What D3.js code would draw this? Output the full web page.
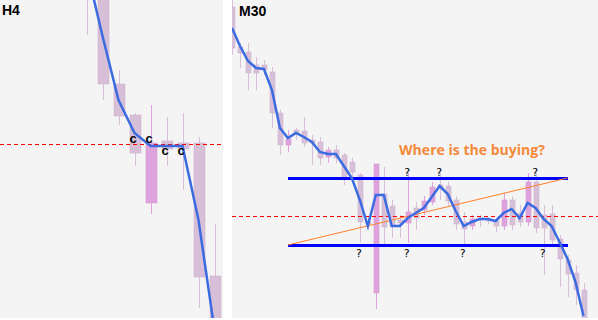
<!DOCTYPE html>
<html>
<head>
<meta charset="utf-8">
<script src="https://cdn.jsdelivr.net/npm/d3@7"></script>
<style>
  body { margin: 0; background: #ffffff; }
  svg { display: block; }
</style>
</head>
<body>
<script>
// H4 candles (price in points)
const h4Open  = [360, 330, 236, 205, 117, 179, 177, 177, 44];
const h4High  = [400, 340, 250, 207, 215, 203, 207, 183, 96];
const h4Low   = [285, 220, 195, 154, 106, 154, 130, 12, -40];
const h4Close = [325, 236, 204, 167, 177, 171, 171, 43, -25];
const h4MA    = [352, 284, 220, 187, 174, 174, 174, 100, -10];
const h4Level = 176;
const h4Marks = [3, 4, 5, 6];

// M30 candles
const m30Open  = [313,273,268,255,255,248,207,175,190,189,180,178,163,170,165,158,145,98,27,126,114,100,97,112,110,118,135,134,120,98,94,102,101,99,94,120,107,98,138,105,106,81,60,47,30];
const m30High  = [325,277,277,263,260,253,210,190,192,203,185,183,173,175,167,162,147,102,156,153,120,105,147,118,124,138,147,138,124,108,105,105,103,102,127,124,115,147,147,115,115,85,65,55,37];
const m30Low   = [265,252,230,230,245,192,165,168,180,173,155,155,157,157,135,142,78,90,11,75,82,82,77,90,105,115,120,114,90,75,90,93,96,88,90,90,93,94,87,45,75,33,23,15,-15];
const m30Close = [272,267,247,247,250,207,175,181,186,177,177,162,170,162,143,148,98,96,156,93,94,97,108,102,119,133,132,119,96,91,101,100,99,94,120,95,98,138,92,92,80,61,46,30,-5];
const m30MA    = [292,274,259,252,251,230,192,182,187,183,178,168,166,166,154,142,120,94,125,125,94,94,102,107,112,123,134,126,109,94,98,101,101,99,107,111,102,117,112,101,94,78,61,38,4];
const m30Level = 104;
const rangeTop = 142, rangeBottom = 75;
const rangeStart = 7, rangeEnd = 42;
const topQuestions = [22, 26, 38];
const bottomQuestions = [16, 22, 29, 39];

const width = 598, height = 320, panelH = 318;

const svg = d3.select('body')
              .append('svg')
              .attr('width', width)
              .attr('height', height)
              .style('background', '#ffffff');

const defs = svg.append('defs');
defs.append('clipPath').attr('id', 'clipL')
    .append('rect').attr('x', 0).attr('y', 0).attr('width', 223).attr('height', panelH);
defs.append('clipPath').attr('id', 'clipR')
    .append('rect').attr('x', 232).attr('y', 0).attr('width', width - 232).attr('height', panelH);

svg.append('rect').attr('x', 0).attr('y', 0).attr('width', 223).attr('height', panelH).attr('fill', '#f4f4f4');
svg.append('rect').attr('x', 232).attr('y', 0).attr('width', width - 232).attr('height', panelH).attr('fill', '#f4f4f4');

const xLeft = d3.scaleLinear().domain([0, 8]).range([86.5, 214.5]);
const xRight = d3.scaleLinear().domain([0, 44]).range([232, 583.5]);
const yScale = d3.scaleLinear().domain([0, 320]).range([320, 0]);

const gL = svg.append('g').attr('clip-path', 'url(#clipL)');
const gR = svg.append('g').attr('clip-path', 'url(#clipR)');

function drawCandles(g, opens, highs, lows, closes, x, bodyW) {
  const idx = d3.range(opens.length);
  const col = (i) => closes[i] > opens[i] ? '#dea2dc' : '#d8bfd8';
  g.selectAll('line.wick')
    .data(idx)
    .enter()
      .append('line')
      .attr('class', 'wick')
      .attr('x1', (i) => Math.round(x(i)) + 0.5)
      .attr('x2', (i) => Math.round(x(i)) + 0.5)
      .attr('y1', (i) => yScale(highs[i]))
      .attr('y2', (i) => yScale(lows[i]))
      .attr('stroke', col)
      .attr('stroke-width', 1)
      .attr('shape-rendering', 'crispEdges');
  g.selectAll('rect.body')
    .data(idx)
    .enter()
      .append('rect')
      .attr('class', 'body')
      .attr('x', (i) => Math.round(x(i)) + 0.5 - bodyW / 2)
      .attr('y', (i) => yScale(Math.max(opens[i], closes[i])))
      .attr('width', bodyW)
      .attr('height', (i) => Math.max(1, Math.abs(yScale(opens[i]) - yScale(closes[i]))))
      .attr('fill', col)
      .attr('stroke', (i) => closes[i] > opens[i] ? '#d49ad2' : '#d0b4d0')
      .attr('stroke-width', 0.6);
}

// H4 panel
drawCandles(gL, h4Open, h4High, h4Low, h4Close, xLeft, 11);

gL.append('line')
  .attr('x1', 0).attr('x2', 223)
  .attr('y1', yScale(h4Level) + 0.5).attr('y2', yScale(h4Level) + 0.5)
  .attr('stroke', '#ff0000')
  .attr('stroke-dasharray', '4,3')
  .attr('shape-rendering', 'crispEdges');

gL.append('path')
  .datum(h4MA)
  .attr('d', d3.line().x((d, i) => xLeft(i)).y((d) => yScale(d)))
  .attr('fill', 'none')
  .attr('stroke', '#3b6be0')
  .attr('stroke-width', 2.5);

const cOffsets = [-1.5, -1.5, 10.5, 10.5];
gL.selectAll('text.c')
  .data(h4Marks)
  .enter()
    .append('text')
    .attr('x', (d) => xLeft(d) - 1.5)
    .attr('y', (d, i) => yScale(h4Level) + cOffsets[i])
    .attr('text-anchor', 'middle')
    .style('font', 'bold 13px "Liberation Sans", Arial, sans-serif')
    .style('fill', '#000')
    .text('c');

svg.append('text')
   .attr('x', 2).attr('y', 15)
   .style('font', 'bold 14px "Liberation Sans", Arial, sans-serif')
   .style('fill', '#000')
   .text('H4');

// M30 panel
drawCandles(gR, m30Open, m30High, m30Low, m30Close, xRight, 5);

gR.append('line')
  .attr('x1', 232).attr('x2', width)
  .attr('y1', yScale(m30Level) + 0.5).attr('y2', yScale(m30Level) + 0.5)
  .attr('stroke', '#ff0000')
  .attr('stroke-dasharray', '4,3')
  .attr('shape-rendering', 'crispEdges');

[rangeTop, rangeBottom].forEach((lv) => {
  gR.append('line')
    .attr('x1', xRight(rangeStart)).attr('x2', xRight(rangeEnd))
    .attr('y1', yScale(lv) + 0.5).attr('y2', yScale(lv) + 0.5)
    .attr('stroke', '#0000ff')
    .attr('stroke-width', 3)
    .attr('shape-rendering', 'crispEdges');
});

gR.append('line')
  .attr('x1', xRight(rangeStart)).attr('y1', yScale(rangeBottom))
  .attr('x2', xRight(rangeEnd)).attr('y2', yScale(rangeTop))
  .attr('stroke', '#ff7f27')
  .attr('stroke-width', 1);

gR.append('path')
  .datum(m30MA)
  .attr('d', d3.line().x((d, i) => xRight(i)).y((d) => yScale(d)))
  .attr('fill', 'none')
  .attr('stroke', '#3b6be0')
  .attr('stroke-width', 2.5);

gR.selectAll('text.qt')
  .data(topQuestions)
  .enter()
    .append('text')
    .attr('x', (d) => xRight(d) - 0.5)
    .attr('y', yScale(rangeTop) - 2.5)
    .attr('text-anchor', 'middle')
    .style('font', '11px "DejaVu Sans", sans-serif')
    .text('?');

gR.selectAll('text.qb')
  .data(bottomQuestions)
  .enter()
    .append('text')
    .attr('x', (d) => xRight(d) - 1)
    .attr('y', yScale(rangeBottom) + 11.5)
    .attr('text-anchor', 'middle')
    .style('font', '11px "DejaVu Sans", sans-serif')
    .text('?');

svg.append('text')
   .attr('x', 399).attr('y', 155)
   .attr('textLength', 146)
   .attr('lengthAdjust', 'spacingAndGlyphs')
   .style('font', 'bold 14px "Open Sans", sans-serif')
   .style('fill', '#f5893a')
   .text('Where is the buying?');

svg.append('text')
   .attr('x', 239).attr('y', 16)
   .style('font', 'bold 14px "Liberation Sans", Arial, sans-serif')
   .style('fill', '#000')
   .text('M30');
</script>
</body>
</html>
